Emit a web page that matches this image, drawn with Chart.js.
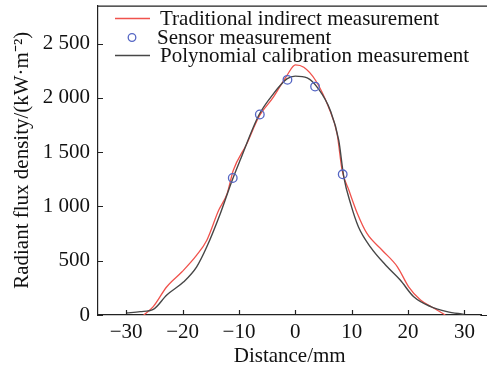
<!DOCTYPE html>
<html>
<head>
<meta charset="utf-8">
<script src="https://cdn.jsdelivr.net/npm/chart.js@4.4.0/dist/chart.umd.min.js"></script>
<style>
  html, body { margin: 0; padding: 0; background: #fff; }
  #wrap { width: 487px; height: 369px; position: relative; }
</style>
</head>
<body>
<div id="wrap"><canvas id="chartCanvas"></canvas></div>
<script>
// traditional indirect measurement (red)
var tradX = [-26.9, -25.2, -22.8, -20.1, -17.5, -15.7, -13.6, -12.1, -11.0, -8.6, -6.5, -3.9, -1.5, 0, 1.5, 3.6, 5.9, 7.4, 8.3, 9.5, 11.0, 12.7, 15.4, 18.1, 20.1, 22.2, 24.6, 26.6];
var tradY = [0, 77, 260, 398, 551, 689, 965, 1118, 1333, 1578, 1822, 2006, 2206, 2304, 2282, 2160, 1914, 1670, 1333, 1149, 935, 751, 597, 444, 260, 138, 62, 0];

// polynomial calibration measurement (dark grey)
var polyX = [-30, -27.5, -25.2, -22.8, -19.8, -17.5, -15.7, -13.3, -11.2, -9.8, -6.5, -3.9, -1.5, 0, 2.1, 4.1, 6.2, 7.7, 8.6, 9.8, 11.2, 13.3, 16.3, 18.6, 21.0, 24.0, 26.9, 29.9];
var polyY = [18, 31, 52, 184, 306, 444, 628, 935, 1241, 1425, 1838, 2037, 2175, 2200, 2184, 2083, 1884, 1608, 1271, 1026, 811, 628, 444, 322, 168, 77, 31, 6];

// sensor measurement (blue circles)
var sensorX = [-11.1, -6.3, -1.4, 3.5, 8.4];
var sensorY = [1262, 1847, 2166, 2104, 1296];

var xTicks = [-30, -20, -10, 0, 10, 20, 30];
var yTicks = [0, 500, 1000, 1500, 2000, 2500];

var labels = ['Traditional indirect measurement', 'Sensor measurement', 'Polynomial calibration measurement'];

function pairs(xs, ys) {
    var out = [];
    for (var i = 0; i < xs.length; i++) out.push({ x: xs[i], y: ys[i] });
    return out;
}

function fmtY(v) {
    var s = String(v);
    if (s.length > 3) s = s.slice(0, s.length - 3) + ' ' + s.slice(s.length - 3);
    return s;
}

var FONT = '"Liberation Serif", "Times New Roman", serif';
var FS = 21;

// inward tick marks + box lines running to the right edge
var boxPlugin = {
    id: 'box',
    afterDraw: function (chart) {
        var c = chart.ctx, a = chart.chartArea;
        var xs = chart.scales.x, ys = chart.scales.y;
        c.save();
        c.strokeStyle = '#222';
        c.lineWidth = 1.2;
        c.beginPath();
        c.moveTo(a.left, a.top + 0.5);
        c.lineTo(chart.width, a.top + 0.5);
        c.moveTo(a.right - 1, a.bottom + 0.5);
        c.lineTo(chart.width, a.bottom + 0.5);
        xTicks.forEach(function (v) {
            var px = Math.round(xs.getPixelForValue(v)) + 0.5;
            c.moveTo(px, a.bottom);
            c.lineTo(px, a.bottom - 5);
        });
        yTicks.forEach(function (v) {
            var py = Math.round(ys.getPixelForValue(v)) + 0.5;
            c.moveTo(a.left, py);
            c.lineTo(a.left + 5, py);
        });
        c.stroke();
        c.restore();
    }
};

// legend drawn inside the plot, top-left
var legendPlugin = {
    id: 'innerLegend',
    afterDraw: function (chart) {
        var c = chart.ctx;
        var rows = [18.5, 37.5, 55.5];
        c.save();
        c.font = FS + 'px ' + FONT;
        c.textBaseline = 'middle';
        c.fillStyle = '#111';
        [0, 1, 2].forEach(function (i, r) {
            var ds = chart.data.datasets[i];
            var y = rows[r];
            c.strokeStyle = ds.borderColor;
            if (ds.showLine) {
                c.lineWidth = ds.borderWidth;
                c.beginPath();
                c.moveTo(115, y);
                c.lineTo(150, y);
                c.stroke();
                c.fillText(ds.label, 160, y + 1);
            } else {
                c.lineWidth = 1.3;
                c.beginPath();
                c.arc(132, y, 3.8, 0, Math.PI * 2);
                c.stroke();
                c.fillText(ds.label, 157, y + 1);
            }
        });
        c.restore();
    }
};

var ctx = document.getElementById('chartCanvas').getContext('2d');
var myChart = new Chart(ctx, {
    type: 'scatter',
    data: {
        datasets: [{
            label: labels[0],
            data: pairs(tradX, tradY),
            showLine: true,
            borderColor: '#f0524c',
            borderWidth: 1.3,
            pointRadius: 0,
            cubicInterpolationMode: 'monotone',
            order: 2
        }, {
            label: labels[1],
            data: pairs(sensorX, sensorY),
            showLine: false,
            borderColor: '#5566c4',
            backgroundColor: 'rgba(0,0,0,0)',
            borderWidth: 1.3,
            pointRadius: 4.3,
            order: 0
        }, {
            label: labels[2],
            data: pairs(polyX, polyY),
            showLine: true,
            borderColor: '#474747',
            borderWidth: 1.4,
            pointRadius: 0,
            cubicInterpolationMode: 'monotone',
            order: 1
        }]
    },
    options: {
        responsive: true,
        maintainAspectRatio: false,
        animation: false,
        layout: { padding: { top: 5, right: 0, left: 0, bottom: 0 } },
        plugins: {
            legend: { display: false },
            tooltip: { enabled: false }
        },
        scales: {
            x: {
                type: 'linear',
                min: -35,
                max: 33,
                afterBuildTicks: function (s) { s.ticks = xTicks.map(function (v) { return { value: v }; }); },
                afterFit: function (s) { s.height = 54; s.paddingLeft = 0; s.paddingRight = 0; },
                grid: { display: false, drawTicks: false },
                border: { display: true, color: '#222', width: 1.2 },
                ticks: {
                    color: '#111',
                    font: { family: FONT, size: FS },
                    padding: 5,
                    maxRotation: 0,
                    callback: function (v) { return v < 0 ? '\u2212' + Math.abs(v) : String(v); }
                },
                title: {
                    display: true,
                    text: 'Distance/mm',
                    color: '#111',
                    font: { family: FONT, size: FS },
                    padding: { top: -3, bottom: 0 }
                }
            },
            y: {
                min: 0,
                max: 2850,
                afterBuildTicks: function (s) { s.ticks = yTicks.map(function (v) { return { value: v }; }); },
                afterFit: function (s) { s.width = 98; s.paddingTop = 0; s.paddingBottom = 0; },
                grid: { display: false, drawTicks: false },
                border: { display: true, color: '#222', width: 1.2 },
                ticks: {
                    color: '#111',
                    font: { family: FONT, size: FS },
                    padding: 8,
                    callback: function (v) { return fmtY(v); }
                },
                title: {
                    display: true,
                    text: 'Radiant flux density/(kW\u00b7m\u207b\u00b2)',
                    color: '#111',
                    font: { family: FONT, size: FS },
                    padding: { top: 10, bottom: 0 }
                }
            }
        }
    },
    plugins: [boxPlugin, legendPlugin]
});
</script>
</body>
</html>
